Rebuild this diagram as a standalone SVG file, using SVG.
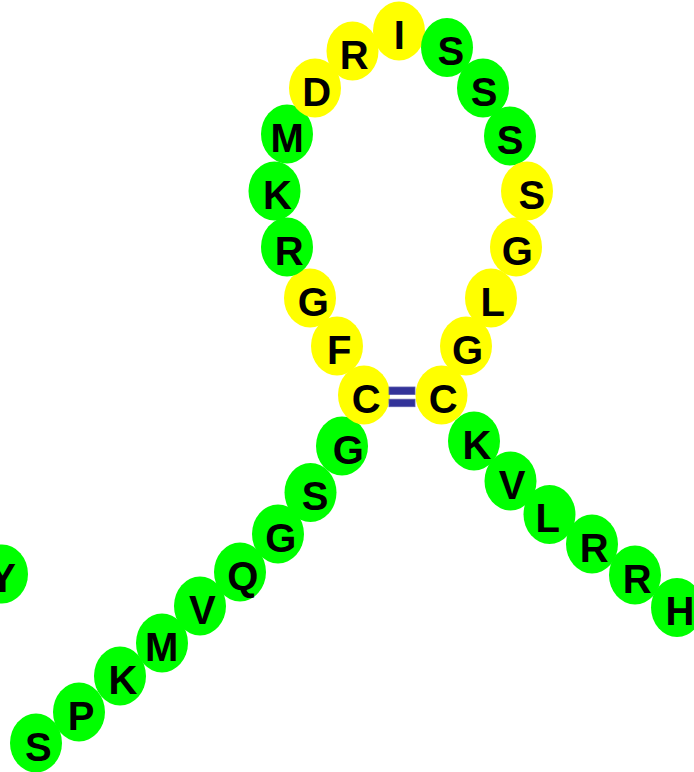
<svg xmlns="http://www.w3.org/2000/svg" width="694" height="772" viewBox="0 0 694 772">
<style>
.g{fill:#00ff00}
.y{fill:#ffff00}
text{font-family:"Liberation Sans",Arial,Helvetica,sans-serif;font-weight:bold;font-size:40px;fill:#000;text-anchor:middle}
.bond{fill:#333399;stroke:#5c5cab;stroke-width:0.8}
</style>
<rect width="694" height="772" fill="#fff"/>
<g id="r1"><ellipse class="g" cx="2" cy="574" rx="26" ry="29.5"/><text x="2.5" y="591.5">Y</text></g>
<g id="r2"><ellipse class="g" cx="36" cy="743" rx="26" ry="29.5"/><text x="38.3" y="760.5">S</text></g>
<g id="r3"><ellipse class="g" cx="79" cy="712" rx="26" ry="29.5"/><text x="81" y="729.5">P</text></g>
<g id="r4"><ellipse class="g" cx="120" cy="676" rx="26" ry="29.5"/><text x="123" y="693.5">K</text></g>
<g id="r5"><ellipse class="g" cx="162" cy="643" rx="26" ry="29.5"/><text x="161.7" y="660.5">M</text></g>
<g id="r6"><ellipse class="g" cx="200" cy="606" rx="26" ry="29.5"/><text x="202.3" y="623.5">V</text></g>
<g id="r7"><ellipse class="g" cx="240" cy="572" rx="26" ry="29.5"/><text x="242.7" y="589.5">Q</text></g>
<g id="r8"><ellipse class="g" cx="278" cy="534" rx="26" ry="29.5"/><text x="280.7" y="551.5">G</text></g>
<g id="r9"><ellipse class="g" cx="310.5" cy="492.5" rx="26" ry="29.5"/><text x="315" y="510">S</text></g>
<g id="r10"><ellipse class="g" cx="342" cy="446" rx="26" ry="29.5"/><text x="348.3" y="463.5">G</text></g>
<g id="r11"><ellipse class="y" cx="364" cy="395" rx="26" ry="29.5"/><text x="366.3" y="412.5">C</text></g>
<g id="r12"><ellipse class="y" cx="337" cy="346" rx="26" ry="29.5"/><text x="339.2" y="363.5">F</text></g>
<g id="r13"><ellipse class="y" cx="310" cy="298" rx="26" ry="29.5"/><text x="313.3" y="315.5">G</text></g>
<g id="r14"><ellipse class="g" cx="287" cy="247" rx="26" ry="29.5"/><text x="289.2" y="264.5">R</text></g>
<g id="r15"><ellipse class="g" cx="274.5" cy="191" rx="26" ry="29.5"/><text x="277.5" y="208.5">K</text></g>
<g id="r16"><ellipse class="g" cx="287" cy="134" rx="26" ry="29.5"/><text x="287.2" y="151.5">M</text></g>
<g id="r17"><ellipse class="y" cx="315" cy="88" rx="26" ry="29.5"/><text x="316.7" y="105.5">D</text></g>
<g id="r18"><ellipse class="y" cx="352.5" cy="51" rx="26" ry="29.5"/><text x="354.2" y="68.5">R</text></g>
<g id="r19"><ellipse class="y" cx="399" cy="31" rx="26" ry="29.5"/><text x="399.2" y="48.5">I</text></g>
<g id="r20"><ellipse class="g" cx="447" cy="47.5" rx="26" ry="29.5"/><text x="450.8" y="65">S</text></g>
<g id="r21"><ellipse class="g" cx="483" cy="88" rx="26" ry="29.5"/><text x="484.2" y="105.5">S</text></g>
<g id="r22"><ellipse class="g" cx="510" cy="136" rx="26" ry="29.5"/><text x="510" y="153.5">S</text></g>
<g id="r23"><ellipse class="y" cx="527" cy="191" rx="26" ry="29.5"/><text x="531.8" y="208.5">S</text></g>
<g id="r24"><ellipse class="y" cx="516" cy="247" rx="26" ry="29.5"/><text x="517.3" y="264.5">G</text></g>
<g id="r25"><ellipse class="y" cx="491" cy="298" rx="26" ry="29.5"/><text x="492.7" y="315.5">L</text></g>
<g id="r26"><ellipse class="y" cx="466" cy="346" rx="26" ry="29.5"/><text x="467.5" y="363.5">G</text></g>
<g id="r27"><ellipse class="y" cx="441.5" cy="395" rx="26" ry="29.5"/><text x="443.3" y="412.5">C</text></g>
<g id="r28"><ellipse class="g" cx="474" cy="441" rx="26" ry="29.5"/><text x="477" y="458.5">K</text></g>
<g id="r29"><ellipse class="g" cx="510.5" cy="481" rx="26" ry="29.5"/><text x="512.2" y="498.5">V</text></g>
<g id="r30"><ellipse class="g" cx="549.5" cy="514.5" rx="26" ry="29.5"/><text x="547.7" y="532">L</text></g>
<g id="r31"><ellipse class="g" cx="592" cy="544" rx="26" ry="29.5"/><text x="594.2" y="561.5">R</text></g>
<g id="r32"><ellipse class="g" cx="635" cy="575" rx="26" ry="29.5"/><text x="637.2" y="592.5">R</text></g>
<g id="r33"><ellipse class="g" cx="677" cy="607.5" rx="26" ry="29.5"/><text x="680" y="625">H</text></g>
<g id="connectors">
<rect class="bond" x="389" y="387" width="26" height="7.5"/>
<rect class="bond" x="389" y="399.2" width="26" height="7.5"/>
</g>
</svg>
